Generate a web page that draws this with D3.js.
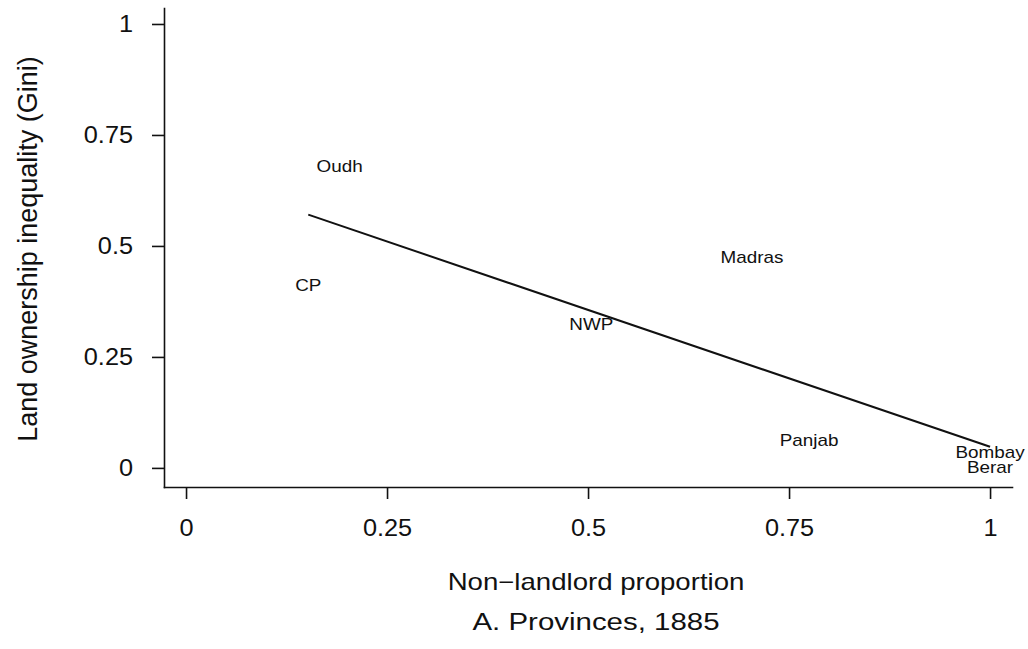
<!DOCTYPE html>
<html>
<head>
<meta charset="utf-8">
<script src="https://cdn.jsdelivr.net/npm/d3@7"></script>
<style>
  html, body { margin: 0; padding: 0; background: #fff; }
  svg { display: block; font-family: "Liberation Sans", Arial, Helvetica, sans-serif; }
  .axis path, .axis line { stroke: #111; stroke-width: 1.6px; }
  .axis text { fill: #111; font-size: 23px; }
</style>
</head>
<body>
<svg id="chart" width="1028" height="649"></svg>
<script>
// Provinces of British India, 1885
const provinces = ["Oudh", "CP", "NWP", "Madras", "Panjab", "Bombay", "Berar"];
const nonLandlord = [0.191, 0.152, 0.504, 0.704, 0.775, 1.0, 1.0];
const gini = [0.678, 0.41, 0.324, 0.475, 0.061, 0.034, 0.0];

const tickValues = [0, 0.25, 0.5, 0.75, 1];
const tickLabels = ["0", "0.25", "0.5", "0.75", "1"];

const xTitle = "Non\u2212landlord proportion";
const yTitle = "Land ownership inequality (Gini)";
const caption = "A. Provinces, 1885";

// The typeface is a wide grotesque; widen Liberation Sans to suit
const WIDE_TICK = 1.1;
const WIDE_LABEL = 1.18;
const WIDE_TITLE = 1.2;
const WIDE_CAPTION = 1.28;

const svg = d3.select("#chart");

const x = d3.scaleLinear().domain([-0.0274, 1.0273]).range([164, 1012]);
const y = d3.scaleLinear().domain([-0.043, 1.036]).range([487, 8]);

// Axes
const yAxis = svg.append("g")
  .attr("class", "axis")
  .attr("transform", `translate(${x.range()[0]},0)`)
  .call(d3.axisLeft(y).tickValues(tickValues)
    .tickFormat((d, i) => tickLabels[i]).tickSize(12).tickSizeOuter(0).tickPadding(19));

yAxis.selectAll(".tick text").each(function () {
  const t = d3.select(this);
  const tx = +t.attr("x");
  t.attr("x", 0).attr("transform", `translate(${tx},0) scale(${WIDE_TICK},1)`);
});

const xAxis = svg.append("g")
  .attr("class", "axis")
  .attr("transform", `translate(0,${y.range()[0]})`)
  .call(d3.axisBottom(x).tickValues(tickValues)
    .tickFormat((d, i) => tickLabels[i]).tickSize(12).tickSizeOuter(0).tickPadding(21));

xAxis.selectAll(".tick text").each(function () {
  const t = d3.select(this);
  const ty = +t.attr("y");
  t.attr("y", 0).attr("transform", `translate(0,${ty}) scale(${WIDE_TICK},1)`);
});

svg.selectAll(".axis .domain").attr("stroke-linecap", "square");

// Least-squares fitted line over the observed range
const mx = d3.mean(nonLandlord), my = d3.mean(gini);
const sxy = d3.sum(nonLandlord, (v, i) => (v - mx) * (gini[i] - my));
const sxx = d3.sum(nonLandlord, v => (v - mx) * (v - mx));
const slope = sxy / sxx, intercept = my - slope * mx;
const [x0, x1] = d3.extent(nonLandlord);
const fit = [[x0, intercept + slope * x0], [x1, intercept + slope * x1]];

svg.append("path")
  .datum(fit)
  .attr("fill", "none")
  .attr("stroke", "#111")
  .attr("stroke-width", 2)
  .attr("d", d3.line().x(d => x(d[0])).y(d => y(d[1])));

// Province labels placed at each observation
svg.append("g")
  .selectAll("text")
  .data(provinces)
  .join("text")
  .attr("transform", (d, i) => `translate(${x(nonLandlord[i])},${y(gini[i])}) scale(${WIDE_LABEL},1)`)
  .attr("text-anchor", "middle")
  .attr("dominant-baseline", "central")
  .attr("font-size", 16)
  .attr("fill", "#111")
  .text(d => d);

// Titles
svg.append("text")
  .attr("transform", `translate(596,590) scale(${WIDE_TITLE},1)`)
  .attr("text-anchor", "middle")
  .attr("font-size", 23).attr("fill", "#111")
  .text(xTitle);

svg.append("text")
  .attr("transform", `translate(596,630) scale(${WIDE_CAPTION},1)`)
  .attr("text-anchor", "middle")
  .attr("font-size", 23).attr("fill", "#111")
  .text(caption);

svg.append("text")
  .attr("transform", "translate(37,249) rotate(-90)")
  .attr("text-anchor", "middle")
  .attr("font-size", 27).attr("fill", "#111")
  .text(yTitle);
</script>
</body>
</html>
